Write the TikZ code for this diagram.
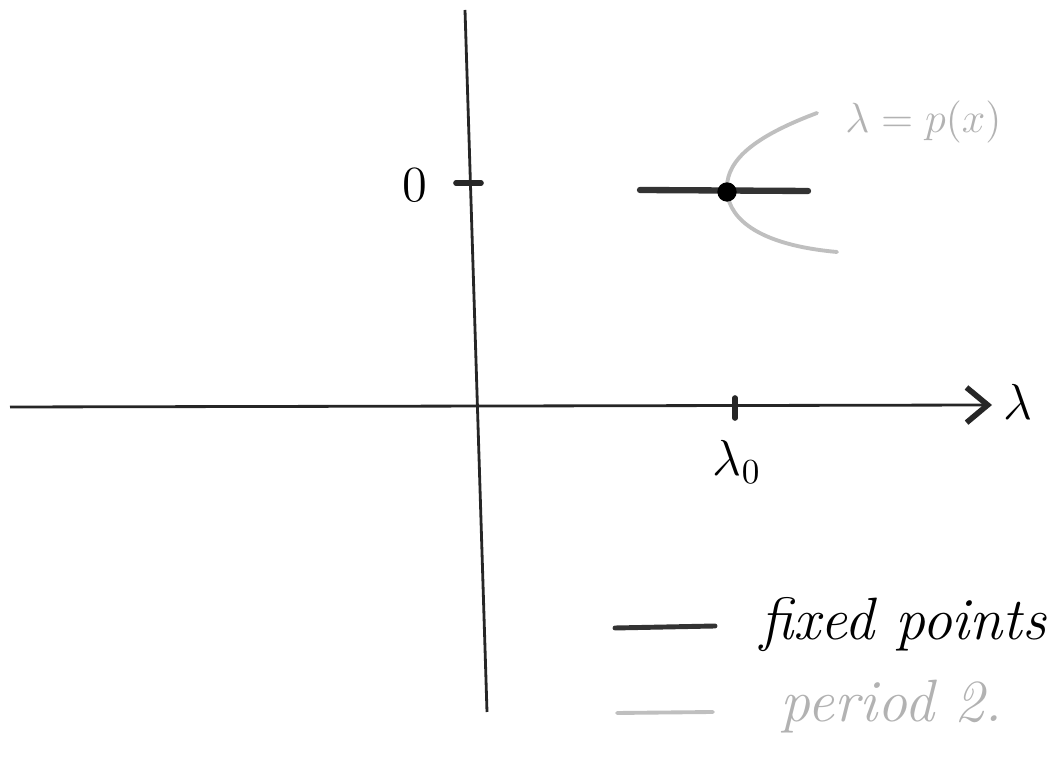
\documentclass[tikz,border=0pt]{standalone}
\usetikzlibrary{arrows.meta}
\begin{document}
\begin{tikzpicture}[
  axis/.style={thick, black!85},
  tickline/.style={line width=1.6pt, black!85, line cap=round},
  fixline/.style={line width=1.8pt, black!80, line cap=round},
  perline/.style={line width=1.1pt, gray!50, line cap=round},
  hand/.style={font=\fontsize{17}{19}\selectfont\itshape, inner sep=0pt},
]
\useasboundingbox (0,0) rectangle (10.48,-7.69);

% Achsen
\coordinate (xl) at (0.1,-4.07);
\coordinate (xr) at (9.92,-4.05);
\coordinate (yt) at (4.65,-0.1);
\coordinate (yb) at (4.87,-7.12);
\draw[axis, -{Straight Barb[length=6pt,width=10pt,line width=1.6pt]}] (xl) -- (xr);
\draw[axis] (yt) -- (yb);

% Striche
\coordinate (t0l) at (4.56,-1.83);
\coordinate (t0r) at (4.81,-1.83);
\draw[tickline] (t0l) -- (t0r);
\coordinate (tlt) at (7.35,-3.98);
\coordinate (tlb) at (7.35,-4.18);
\draw[tickline] (tlt) -- (tlb);

% labels
\node[font=\Large] (lam) at (10.18,-4.02) {$\lambda$};
\node[font=\Large] (zero) at (4.15,-1.85) {$0$};
\node[font=\Large] (lamnull) at (7.37,-4.62) {$\lambda_0$};

% Periode 2
\coordinate (fpc) at (7.27,-1.92);
\coordinate (pup) at (8.17,-1.13);
\coordinate (plo) at (8.37,-2.52);
\draw[perline] (pup) .. controls (7.45,-1.4) and (7.25,-1.65) .. (fpc)
  .. controls (7.3,-2.2) and (7.6,-2.45) .. (plo);
\node[gray!60, font=\large, anchor=west] (plab) at (8.33,-1.22) {$\lambda = p(x)$};

% Fixpunkte
\coordinate (fpl) at (6.4,-1.9);
\coordinate (fpr) at (8.08,-1.91);
\draw[fixline] (fpl) -- (fpr);
\node[circle, fill=black, inner sep=0pt, minimum size=5.5pt] (fpdot) at (fpc) {};

% Legende
\coordinate (lfl) at (6.15,-6.28);
\coordinate (lfr) at (7.15,-6.26);
\draw[fixline, line width=1.4pt] (lfl) -- (lfr);
\node[hand, anchor=base west] (lfix) at (7.6,-6.4) {fixed points};
\coordinate (lpl) at (6.17,-7.13);
\coordinate (lpr) at (7.13,-7.12);
\draw[perline] (lpl) -- (lpr);
\node[hand, gray!60, anchor=base west] (lper) at (7.8,-7.22) {period 2.};
\end{tikzpicture}
\end{document}
